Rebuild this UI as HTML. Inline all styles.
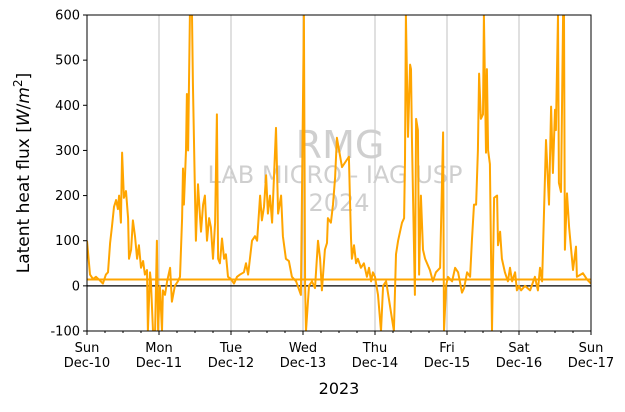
<!DOCTYPE html>
<html><head><meta charset="utf-8"><style>
body{margin:0;background:#fff;font-family:"DejaVu Sans","Liberation Sans",sans-serif;}
</style></head><body>
<svg id="c" width="625" height="408" xmlns="http://www.w3.org/2000/svg"></svg>
<script>
const dayLabels=["Sun","Mon","Tue","Wed","Thu","Fri","Sat","Sun"];
const dateLabels=["Dec-10","Dec-11","Dec-12","Dec-13","Dec-14","Dec-15","Dec-16","Dec-17"];
const yTicks=[-100,0,100,200,300,400,500,600];
const meanValue=14;
const hourX=[
0,1,2,3,4.3,5.3,6.3,7,7.7,8.3,
9,9.7,10.3,10.7,11.3,11.7,12.3,13,13.7,14,
14.7,15.3,16,16.7,17.3,18,18.7,19.3,20,20.3,
21,21.3,22,22.7,23.3,23.7,24.3,25,25.3,26,
26.7,27.7,28.3,29.3,30.3,31,31.7,32,32.3,33,
33.3,33.7,34.3,35,35.3,36,36.3,37,37.7,38,
38.7,39.3,40,40.7,41.3,42,42.7,43.3,43.7,44.3,
45,45.7,46.3,47,48,49,50,51,52.3,53,
53.7,55,56,56.7,57.7,58.3,59,59.7,60.3,61,
61.7,63,63.7,64.7,65.3,66.3,67.3,68.3,69.7,71.3,
72.3,72.7,73,74,75,76,77,77.7,78.3,79.3,
80,80.3,81.3,82,82.7,83.3,85,87.3,87.7,88,
88.3,89,89.7,90.3,91.3,92.3,93.3,94,94.7,95.3,96,
97,98,98.7,99.7,100.3,
102.3,103,103.7,105,105.7,106,106.3,107,107.7,108,
108.3,109.3,109.7,110.3,110.7,111.3,112,112.7,114.3,115.3,
116.3,117.7,118.7,119,119.7,120.3,121.7,122.7,123.7,125,
125.7,126.7,127.7,128.3,129,129.7,130.3,130.7,131.3,132,
132.3,133,133.3,133.7,134.3,135,135.7,136.7,137,137.7,
138.3,139.3,140.3,141,141.7,142.7,143.3,144,144.7,146,
147.7,149.3,150.3,151,151.7,153,154,154.7,155.3,156,
156.3,157,157.3,158,158.7,159,159.3,160,160.7,162,
163,163.3,165.3,166.7,168];
const fluxValues=[
100,25,15,20,12,5,25,30,95,130,
175,190,170,200,140,295,195,210,150,60,
80,145,110,60,90,40,55,25,35,-100,
30,10,-100,-100,100,-100,0,-100,-10,-20,
10,40,-35,0,10,20,150,260,180,300,
425,300,600,600,450,200,100,225,150,120,
180,200,100,150,130,60,140,380,60,50,
105,60,70,20,15,5,20,25,30,50,
25,100,110,100,200,145,175,245,160,200,
140,350,160,200,110,60,55,20,10,-20,
600,0,-100,0,10,-5,100,60,-10,80,
95,150,140,180,240,328,263,286,180,106,
60,90,50,60,40,50,20,40,10,30,20,
-20,-100,0,10,-15,
-100,70,100,140,150,280,600,330,490,480,
330,-20,370,345,25,200,80,60,35,10,
30,40,340,-100,0,20,10,40,30,-15,
-5,30,20,100,180,180,300,470,370,380,
600,295,480,300,270,-100,195,200,90,120,
60,30,10,40,10,30,-10,0,-10,0,
-10,20,-10,40,10,323,180,397,250,390,
345,600,228,208,600,600,80,205,130,35,
87,20,28,14,5];
const NS="http://www.w3.org/2000/svg";
const svg=document.getElementById('c');
const L=87,R=591,T=15,B=331;
const xs=h=>L+(R-L)*h/168;
const ys=v=>B-(B-T)*(v+100)/700;
function el(t,a,p){const e=document.createElementNS(NS,t);for(const k in a)e.setAttribute(k,a[k]);(p||svg).appendChild(e);return e;}
dayLabels.forEach((d,i)=>{if(i>0&&i<7){const g=el('line',{x1:xs(i*24),x2:xs(i*24),y1:T,y2:B,stroke:'#c0c0c0','stroke-width':1});

}});
const wm=[["RMG",340,158,38],["LAB MICRO - IAG USP",335,183,24],["2024",339,211,24]];
wm.forEach(w=>{const t=el('text',{x:w[1],y:w[2],'font-size':w[3],fill:'#cfcfcf','text-anchor':'middle'});t.textContent=w[0];

});
const z=el('line',{x1:L,x2:R,y1:ys(0),y2:ys(0),stroke:'#000','stroke-width':1.2});


const cp=el('clipPath',{id:'pc'});el('rect',{x:L,y:T,width:R-L,height:B-T},cp);
const g=el('g',{'clip-path':'url(#pc)'});
const m=el('line',{x1:L,x2:R,y1:ys(meanValue),y2:ys(meanValue),stroke:'#ffa500','stroke-width':2},g);


const n=Math.min(hourX.length,fluxValues.length);
const pts=[];for(let i=0;i<n;i++)pts.push(xs(hourX[i])+','+ys(fluxValues[i]));
const pl=el('polyline',{points:pts.join(' '),fill:'none',stroke:'#ffa500','stroke-width':2,'stroke-linejoin':'round'},g);


const f=el('rect',{x:L,y:T,width:R-L,height:B-T,fill:'none',stroke:'#000','stroke-width':1});


yTicks.forEach(v=>{el('line',{x1:L-4,x2:L,y1:ys(v),y2:ys(v),stroke:'#000'});
const t=el('text',{x:L-7,y:ys(v)+4.5,'font-size':13,'text-anchor':'end'});t.textContent=v;

});
for(let h=0;h<=168;h+=6){const maj=h%24===0;el('line',{x1:xs(h),x2:xs(h),y1:B,y2:B+(maj?4:2),stroke:'#000'});}
dayLabels.forEach((d,i)=>{const t=el('text',{x:xs(i*24),y:352,'font-size':13,'text-anchor':'middle'});t.textContent=d;


const t2=el('text',{x:xs(i*24),y:367,'font-size':13,'text-anchor':'middle'});t2.textContent=dateLabels[i];

});
const xt=el('text',{x:339,y:394,'font-size':16,'text-anchor':'middle'});xt.textContent="2023";


const yt=el('text',{x:0,y:0,'font-size':17,'text-anchor':'middle',transform:'translate(29,173) rotate(-90)'});
yt.innerHTML='Latent heat flux [<tspan font-style="italic">W</tspan>/<tspan font-style="italic">m</tspan><tspan dy="-7" font-size="12">2</tspan><tspan dy="7">]</tspan>';


</script>
</body></html>
